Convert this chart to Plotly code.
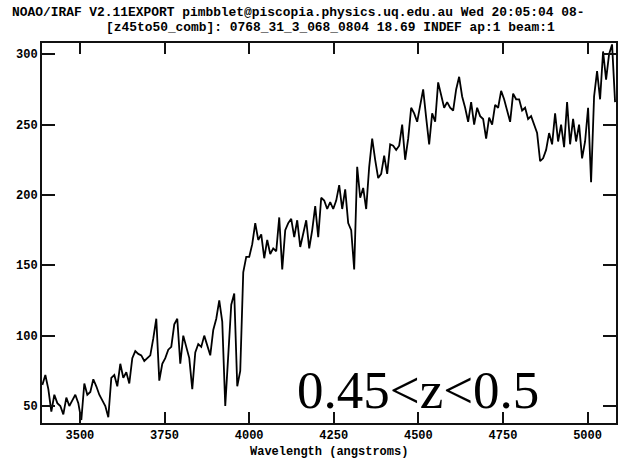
import plotly.graph_objects as go

# Linear dispersion of the spectrum (Angstrom)
W_START = 3389.0
W_STEP = 8.86

FLUX = [
    65, 72, 62, 46, 58, 52, 50, 44, 56, 50, 54, 58, 52, 40, 66, 58, 60, 69, 64, 58,
    54, 50, 42, 70, 72, 64, 80, 70, 74, 66, 84, 89, 87, 86, 82, 84, 86, 98, 112, 68,
    80, 84, 90, 92, 108, 112, 80, 100, 92, 84, 62, 88, 94, 92, 100, 92, 86, 104, 112, 125,
    110, 50, 90, 122, 130, 64, 75, 145, 156, 156, 165, 180, 168, 172, 155, 168, 158, 162, 160, 184,
    147, 175, 180, 183, 170, 182, 163, 172, 182, 162, 175, 192, 170, 198, 196, 190, 195, 190, 196, 207,
    190, 204, 180, 175, 147, 220, 198, 205, 190, 220, 240, 225, 212, 215, 228, 215, 236, 235, 232, 235,
    250, 225, 240, 262, 258, 252, 265, 275, 255, 236, 258, 252, 280, 270, 262, 266, 262, 260, 275, 284,
    270, 262, 252, 266, 250, 262, 256, 254, 240, 255, 250, 264, 262, 274, 268, 260, 252, 272, 268, 268,
    260, 262, 254, 256, 250, 244, 224, 226, 232, 244, 236, 258, 238, 250, 234, 266, 236, 254, 238, 250,
    226, 238, 262, 209, 270, 288, 268, 302, 282, 300, 307, 266,
]
WAVE = [W_START + W_STEP * i for i in range(len(FLUX))]

X_TICKS = [3500, 3750, 4000, 4250, 4500, 4750, 5000]
Y_TICKS = [50, 100, 150, 200, 250, 300]

TITLE_1 = "NOAO/IRAF V2.11EXPORT pimbblet@piscopia.physics.uq.edu.au Wed 20:05:04 08-"
TITLE_2 = "[z45to50_comb]: 0768_31_3_068_0804 18.69 INDEF ap:1 beam:1"
X_TITLE = "Wavelength (angstroms)"
LABEL = "0.45<z<0.5"

W, H = 619, 470
ML, MR, MT, MB = 42, 1, 43, 47
PW, PH = W - ML - MR, H - MT - MB


def px(x):
    return (x - ML) / PW


def py(y):
    return (H - MB - y) / PH


mono = dict(family="Liberation Mono", size=12, color="black", weight="bold")

fig = go.Figure()
fig.add_trace(go.Scatter(x=WAVE, y=FLUX, mode="lines",
                         line=dict(color="black", width=1.8), hoverinfo="skip"))

axis_common = dict(showgrid=False, zeroline=False, showline=True, linecolor="#111",
                   linewidth=2, mirror="ticks", ticks="inside", tickcolor="#111",
                   tickwidth=2, tickfont=mono)

fig.update_xaxes(range=[3388, 5084], tickvals=X_TICKS, ticktext=[str(v) for v in X_TICKS],
                 ticklen=11, **axis_common)
fig.update_yaxes(range=[37.9, 308], tickvals=Y_TICKS, ticktext=[str(v) for v in Y_TICKS],
                 ticklen=13, **axis_common)

ann = [
    dict(text=TITLE_1, x=px(298.5), y=py(12), font=dict(mono, size=12.9)),
    dict(text=TITLE_2, x=px(331.5), y=py(28), font=dict(mono, size=12.9)),
    dict(text=X_TITLE, x=px(330), y=py(452), font=dict(mono, size=12)),
    dict(text=LABEL, x=px(419), y=py(390),
         font=dict(family="Liberation Serif", size=53, color="black")),
]
for a in ann:
    fig.add_annotation(xref="paper", yref="paper", showarrow=False,
                       xanchor="center", yanchor="middle", **a)

fig.update_layout(width=W, height=H, margin=dict(l=ML, r=MR, t=MT, b=MB),
                  paper_bgcolor="white", plot_bgcolor="white", showlegend=False)

fig.write_html("out.html", config={"displayModeBar": False},
               post_script="document.body.style.margin='0px';document.body.style.padding='0px';")
